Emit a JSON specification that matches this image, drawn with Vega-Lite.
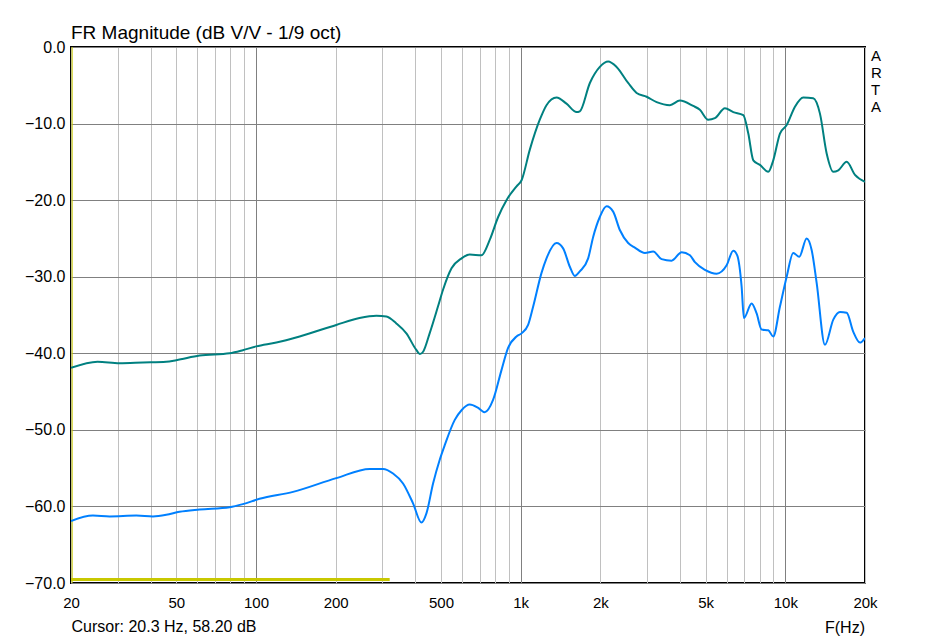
{
  "$schema": "https://vega.github.io/schema/vega-lite/v6.json",
  "autosize": "none",
  "width": 794,
  "height": 536,
  "padding": {"left": 71, "top": 47, "right": 72, "bottom": 58},
  "background": "white",
  "title": {
    "text": "FR Magnitude (dB V/V - 1/9 oct)",
    "anchor": "start",
    "frame": "group",
    "font": "Liberation Sans",
    "fontSize": 19,
    "fontWeight": "normal",
    "color": "black",
    "offset": -4
  },
  "config": {
    "view": {"stroke": "black", "strokeWidth": 2},
    "axis": {"labelFont": "Liberation Sans", "labelColor": "black", "titleFont": "Liberation Sans"}
  },
  "data": {
    "values": [
      {"s": "green", "f": 20, "db": -41.9},
      {"s": "green", "f": 25.2, "db": -41.1},
      {"s": "green", "f": 30.5, "db": -41.3},
      {"s": "green", "f": 37.4, "db": -41.2},
      {"s": "green", "f": 45.8, "db": -41.1},
      {"s": "green", "f": 50, "db": -40.9},
      {"s": "green", "f": 61.2, "db": -40.3},
      {"s": "green", "f": 79.5, "db": -40.0},
      {"s": "green", "f": 89.2, "db": -39.6},
      {"s": "green", "f": 100.2, "db": -39.1},
      {"s": "green", "f": 119.4, "db": -38.6},
      {"s": "green", "f": 146.2, "db": -37.8},
      {"s": "green", "f": 201, "db": -36.3},
      {"s": "green", "f": 246, "db": -35.4},
      {"s": "green", "f": 285, "db": -35.1},
      {"s": "green", "f": 311, "db": -35.2},
      {"s": "green", "f": 339, "db": -36.1},
      {"s": "green", "f": 370, "db": -37.4},
      {"s": "green", "f": 404, "db": -39.6},
      {"s": "green", "f": 416, "db": -40.1},
      {"s": "green", "f": 428, "db": -39.8},
      {"s": "green", "f": 453, "db": -37.4},
      {"s": "green", "f": 487, "db": -33.9},
      {"s": "green", "f": 509, "db": -31.7},
      {"s": "green", "f": 548, "db": -28.9},
      {"s": "green", "f": 598, "db": -27.6},
      {"s": "green", "f": 642, "db": -27.1},
      {"s": "green", "f": 711, "db": -27.2},
      {"s": "green", "f": 764, "db": -25.2},
      {"s": "green", "f": 822, "db": -22.2},
      {"s": "green", "f": 884, "db": -20.0},
      {"s": "green", "f": 965, "db": -18.2},
      {"s": "green", "f": 1008, "db": -17.4},
      {"s": "green", "f": 1083, "db": -13.4},
      {"s": "green", "f": 1181, "db": -9.5},
      {"s": "green", "f": 1252, "db": -7.6},
      {"s": "green", "f": 1366, "db": -6.6},
      {"s": "green", "f": 1490, "db": -7.4},
      {"s": "green", "f": 1626, "db": -8.5},
      {"s": "green", "f": 1673, "db": -8.4},
      {"s": "green", "f": 1826, "db": -4.7},
      {"s": "green", "f": 1991, "db": -2.6},
      {"s": "green", "f": 2141, "db": -1.9},
      {"s": "green", "f": 2303, "db": -2.6},
      {"s": "green", "f": 2548, "db": -4.7},
      {"s": "green", "f": 2742, "db": -6.0},
      {"s": "green", "f": 2991, "db": -6.5},
      {"s": "green", "f": 3264, "db": -7.2},
      {"s": "green", "f": 3663, "db": -7.6},
      {"s": "green", "f": 3996, "db": -7.0},
      {"s": "green", "f": 4487, "db": -7.7},
      {"s": "green", "f": 4755, "db": -8.2},
      {"s": "green", "f": 5111, "db": -9.5},
      {"s": "green", "f": 5418, "db": -9.3},
      {"s": "green", "f": 5912, "db": -8.0},
      {"s": "green", "f": 6358, "db": -8.5},
      {"s": "green", "f": 6937, "db": -8.9},
      {"s": "green", "f": 7246, "db": -11.3},
      {"s": "green", "f": 7568, "db": -14.8},
      {"s": "green", "f": 8021, "db": -15.4},
      {"s": "green", "f": 8620, "db": -16.3},
      {"s": "green", "f": 9003, "db": -14.8},
      {"s": "green", "f": 9543, "db": -11.3},
      {"s": "green", "f": 10118, "db": -10.2},
      {"s": "green", "f": 10873, "db": -7.8},
      {"s": "green", "f": 11686, "db": -6.6},
      {"s": "green", "f": 12750, "db": -6.7},
      {"s": "green", "f": 13515, "db": -8.7},
      {"s": "green", "f": 14328, "db": -13.9},
      {"s": "green", "f": 15177, "db": -16.3},
      {"s": "green", "f": 15855, "db": -16.1},
      {"s": "green", "f": 17054, "db": -15.0},
      {"s": "green", "f": 18333, "db": -16.7},
      {"s": "green", "f": 20000, "db": -17.6},
      {"s": "blue", "f": 20, "db": -61.9},
      {"s": "blue", "f": 24.2, "db": -61.2},
      {"s": "blue", "f": 28.0, "db": -61.3},
      {"s": "blue", "f": 35.3, "db": -61.2},
      {"s": "blue", "f": 40.8, "db": -61.3},
      {"s": "blue", "f": 45.8, "db": -61.1},
      {"s": "blue", "f": 51.4, "db": -60.7},
      {"s": "blue", "f": 61.2, "db": -60.4},
      {"s": "blue", "f": 79.5, "db": -60.1},
      {"s": "blue", "f": 89.2, "db": -59.7},
      {"s": "blue", "f": 103.1, "db": -59.0},
      {"s": "blue", "f": 138, "db": -58.1},
      {"s": "blue", "f": 201, "db": -56.3},
      {"s": "blue", "f": 269, "db": -55.1},
      {"s": "blue", "f": 302, "db": -55.1},
      {"s": "blue", "f": 329.5, "db": -55.7},
      {"s": "blue", "f": 359.4, "db": -57.0},
      {"s": "blue", "f": 392.1, "db": -59.6},
      {"s": "blue", "f": 421.8, "db": -62.1},
      {"s": "blue", "f": 440.5, "db": -60.9},
      {"s": "blue", "f": 466.7, "db": -57.0},
      {"s": "blue", "f": 494.6, "db": -53.9},
      {"s": "blue", "f": 516.6, "db": -52.0},
      {"s": "blue", "f": 563.7, "db": -48.7},
      {"s": "blue", "f": 598.9, "db": -47.4},
      {"s": "blue", "f": 642.2, "db": -46.7},
      {"s": "blue", "f": 688.6, "db": -47.1},
      {"s": "blue", "f": 731.8, "db": -47.7},
      {"s": "blue", "f": 786.5, "db": -46.1},
      {"s": "blue", "f": 846.3, "db": -42.2},
      {"s": "blue", "f": 896.4, "db": -39.3},
      {"s": "blue", "f": 964.7, "db": -37.8},
      {"s": "blue", "f": 1007.7, "db": -37.4},
      {"s": "blue", "f": 1067, "db": -36.3},
      {"s": "blue", "f": 1115, "db": -33.9},
      {"s": "blue", "f": 1199, "db": -29.5},
      {"s": "blue", "f": 1252, "db": -27.6},
      {"s": "blue", "f": 1366, "db": -25.6},
      {"s": "blue", "f": 1447, "db": -26.3},
      {"s": "blue", "f": 1534, "db": -28.7},
      {"s": "blue", "f": 1602, "db": -29.9},
      {"s": "blue", "f": 1673, "db": -29.3},
      {"s": "blue", "f": 1799, "db": -27.6},
      {"s": "blue", "f": 1879, "db": -24.8},
      {"s": "blue", "f": 1991, "db": -22.2},
      {"s": "blue", "f": 2111, "db": -20.8},
      {"s": "blue", "f": 2236, "db": -21.5},
      {"s": "blue", "f": 2370, "db": -23.9},
      {"s": "blue", "f": 2548, "db": -25.6},
      {"s": "blue", "f": 2700, "db": -26.2},
      {"s": "blue", "f": 2947, "db": -26.9},
      {"s": "blue", "f": 3168, "db": -26.7},
      {"s": "blue", "f": 3408, "db": -27.7},
      {"s": "blue", "f": 3718, "db": -27.9},
      {"s": "blue", "f": 4057, "db": -26.8},
      {"s": "blue", "f": 4360, "db": -27.2},
      {"s": "blue", "f": 4554, "db": -28.1},
      {"s": "blue", "f": 4968, "db": -29.1},
      {"s": "blue", "f": 5501, "db": -29.6},
      {"s": "blue", "f": 6002, "db": -28.5},
      {"s": "blue", "f": 6358, "db": -26.6},
      {"s": "blue", "f": 6580, "db": -27.2},
      {"s": "blue", "f": 6837, "db": -31.3},
      {"s": "blue", "f": 6975, "db": -35.4},
      {"s": "blue", "f": 7458, "db": -33.5},
      {"s": "blue", "f": 7790, "db": -34.8},
      {"s": "blue", "f": 8137, "db": -36.9},
      {"s": "blue", "f": 8620, "db": -37.0},
      {"s": "blue", "f": 9003, "db": -37.8},
      {"s": "blue", "f": 9543, "db": -33.9},
      {"s": "blue", "f": 10118, "db": -30.0},
      {"s": "blue", "f": 10714, "db": -26.9},
      {"s": "blue", "f": 11289, "db": -27.4},
      {"s": "blue", "f": 12038, "db": -25.0},
      {"s": "blue", "f": 12573, "db": -26.5},
      {"s": "blue", "f": 13133, "db": -30.8},
      {"s": "blue", "f": 14117, "db": -38.9},
      {"s": "blue", "f": 15177, "db": -35.6},
      {"s": "blue", "f": 16088, "db": -34.6},
      {"s": "blue", "f": 17054, "db": -34.7},
      {"s": "blue", "f": 18066, "db": -37.2},
      {"s": "blue", "f": 19141, "db": -38.6},
      {"s": "blue", "f": 20000, "db": -38.0},
      {"s": "yellow", "f": 20, "db": -69.55},
      {"s": "yellow", "f": 320, "db": -69.55}
    ]
  },
  "layer": [
    {
      "data": {"values": [{"cursor": 20.2}]},
      "mark": {"type": "rule", "color": "#c8c800", "strokeWidth": 1},
      "encoding": {"x": {"field": "cursor", "type": "quantitative"}}
    },
    {
      "transform": [{"filter": "datum.s == 'yellow'"}],
      "mark": {"type": "line", "color": "#c8c800", "strokeWidth": 3, "clip": true},
      "encoding": {
        "x": {"field": "f", "type": "quantitative"},
        "y": {"field": "db", "type": "quantitative"}
      }
    },
    {
      "transform": [{"filter": "datum.s != 'yellow'"}],
      "mark": {"type": "line", "strokeWidth": 2, "interpolate": "monotone", "clip": true},
      "encoding": {
        "x": {
          "field": "f",
          "type": "quantitative",
          "scale": {"type": "log", "domain": [20, 20000], "nice": false},
          "axis": {
            "values": [20, 30, 40, 50, 60, 70, 80, 90, 100, 200, 300, 400, 500, 600, 700, 800, 900, 1000, 2000, 3000, 4000, 5000, 6000, 7000, 8000, 9000, 10000, 20000],
            "labelExpr": "indexof([20,50,100,200,500,1000,2000,5000,10000,20000], datum.value) >= 0 ? (datum.value >= 1000 ? (datum.value/1000) + 'k' : '' + datum.value) : ''",
            "labelOverlap": false,
            "labelFlush": false,
            "labelBound": false,
            "labelFontSize": 15,
            "labelPadding": 12,
            "ticks": false,
            "domain": false,
            "grid": true,
            "gridColor": {"condition": {"test": "datum.value == 100 || datum.value == 1000 || datum.value == 10000", "value": "#808080"}, "value": "#c0c0c0"},
            "gridWidth": 1,
            "title": "Cursor: 20.3 Hz, 58.20 dB",
            "titleFontSize": 16,
            "titleFontWeight": "normal",
            "titleColor": "black",
            "titleAnchor": "start",
            "titleAlign": "left",
            "titlePadding": 8
          }
        },
        "y": {
          "field": "db",
          "type": "quantitative",
          "scale": {"domain": [-70, 0], "nice": false},
          "axis": {
            "values": [-70, -60, -50, -40, -30, -20, -10, 0],
            "format": ".1f",
            "labelFontSize": 16,
            "labelPadding": 6,
            "ticks": false,
            "domain": false,
            "grid": true,
            "gridColor": "#808080",
            "gridWidth": 1,
            "title": null
          }
        },
        "color": {
          "field": "s",
          "type": "nominal",
          "scale": {"domain": ["green", "blue"], "range": ["#008080", "#0080ff"]},
          "legend": null
        }
      }
    },
    {
      "data": {"values": [{"f": 20000, "db": 0, "label": "ARTA"}]},
      "mark": {"type": "text", "align": "left", "baseline": "top", "dx": 6, "dy": 2, "font": "Liberation Sans", "fontSize": 15, "fontWeight": "normal", "lineHeight": 17, "fill": "black"},
      "encoding": {
        "x": {"field": "f", "type": "quantitative"},
        "y": {"field": "db", "type": "quantitative"},
        "text": {"value": ["A", "R", "T", "A"]}
      }
    },
    {
      "data": {"values": [{"f": 20000, "db": -70, "label": "F(Hz)"}]},
      "mark": {"type": "text", "align": "right", "baseline": "middle", "dx": 0, "dy": 45, "font": "Liberation Sans", "fontSize": 16, "fontWeight": "normal", "fill": "black"},
      "encoding": {
        "x": {"field": "f", "type": "quantitative"},
        "y": {"field": "db", "type": "quantitative"},
        "text": {"field": "label"}
      }
    }
  ]
}
